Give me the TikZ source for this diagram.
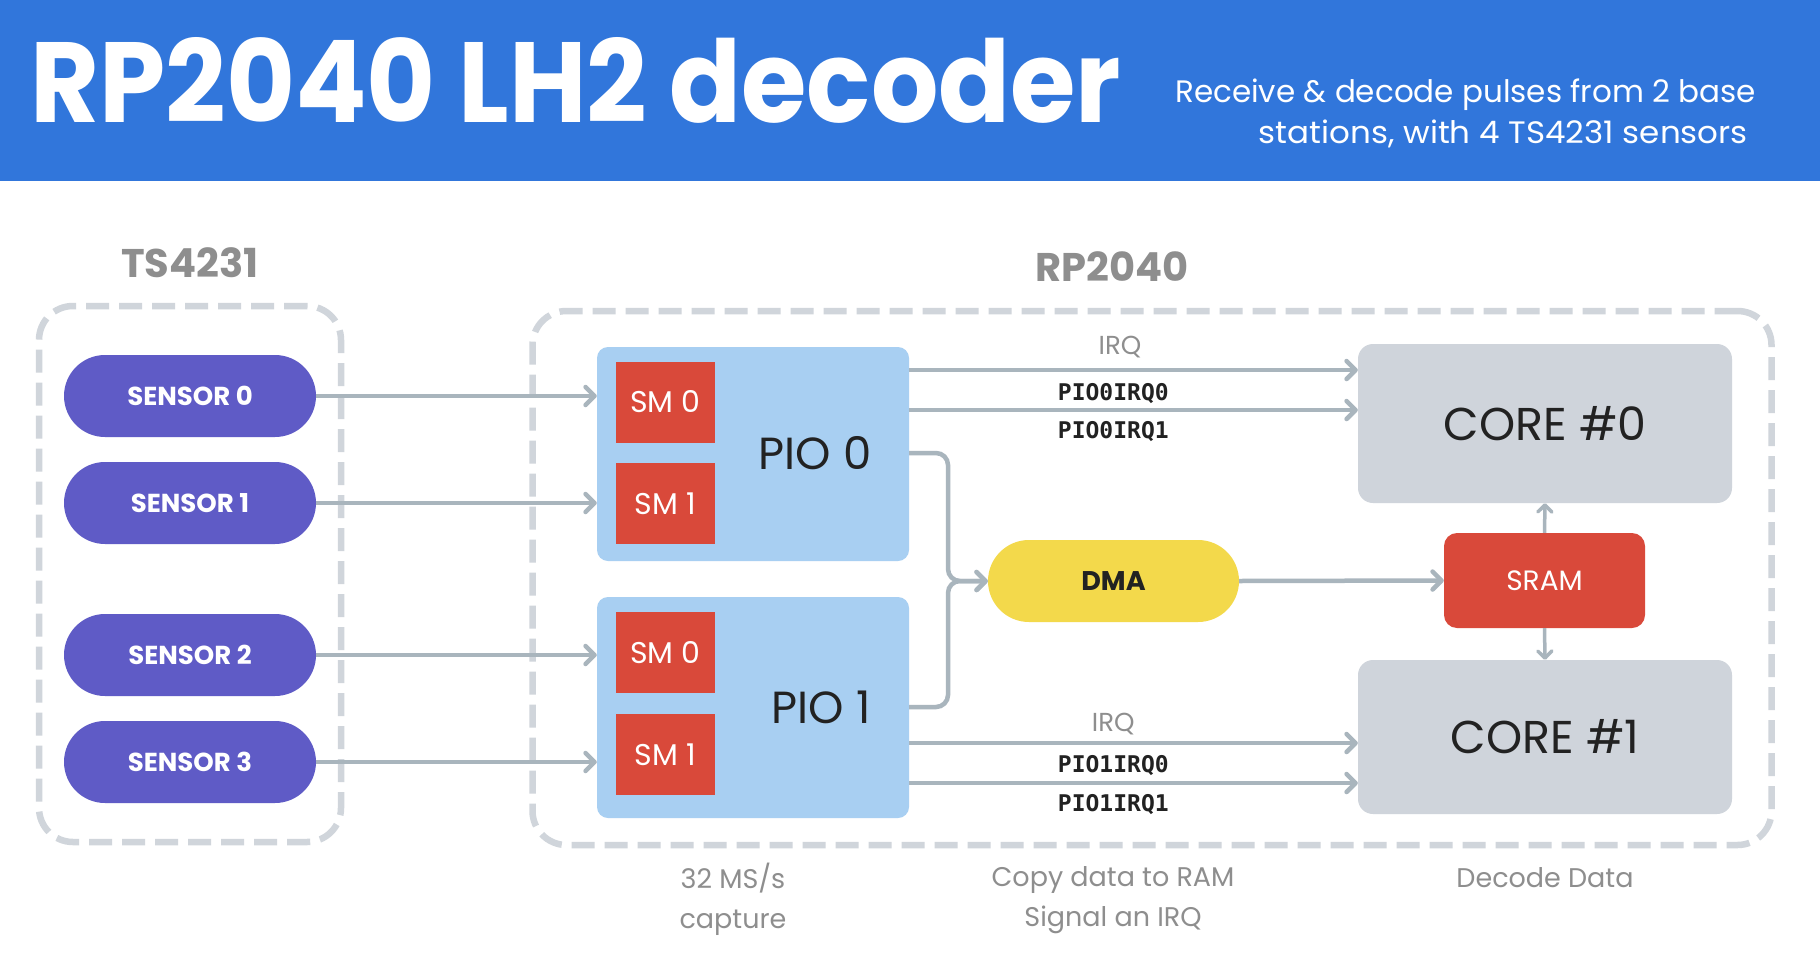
\documentclass[tikz,border=0pt]{standalone}
\usepackage{graphicx}
\usepackage{fontspec}
\setmainfont{Poppins}
\newfontfamily\monofam{DejaVu Sans Mono}
\usetikzlibrary{arrows.meta, positioning}
\definecolor{headerblue}{RGB}{49, 118, 219}
\definecolor{sensorpurple}{RGB}{95, 91, 198}
\definecolor{pioblue}{RGB}{168, 207, 242}
\definecolor{smred}{RGB}{217, 73, 58}
\definecolor{coregray}{RGB}{207, 212, 219}
\definecolor{dmayellow}{RGB}{243, 217, 75}
\definecolor{connline}{RGB}{169, 181, 189}
\definecolor{groupline}{RGB}{208, 213, 219}
\definecolor{labelgray}{RGB}{142, 142, 142}
\definecolor{darktext}{RGB}{34, 34, 34}

\tikzset{
    conn/.style={draw=connline, line width=4.5pt,
        -{Straight Barb[length=9pt, width=18pt, line cap=round, line join=round]}},
    thinconn/.style={draw=connline, line width=3.5pt,
        -{Straight Barb[length=7pt, width=14pt, line cap=round, line join=round]}},
    groupbox/.style={draw=groupline, line width=6.5pt, dash pattern=on 23pt off 10pt,
        rounded corners=34pt, inner sep=0pt},
    pill/.style={rectangle, inner sep=0pt, minimum width=252pt, minimum height=82pt,
        rounded corners=41pt},
    sensorpill/.style={pill, fill=sensorpurple, text=white,
        font=\fontsize{26}{30}\selectfont\bfseries},
    piobox/.style={rectangle, fill=pioblue, rounded corners=11pt, inner sep=0pt,
        minimum width=312pt},
    smbox/.style={rectangle, fill=smred, text=white, inner sep=0pt,
        minimum width=99pt, minimum height=81pt, font=\fontsize{30}{34}\selectfont},
    corebox/.style={rectangle, fill=coregray, text=darktext, rounded corners=15pt,
        inner sep=0pt, minimum width=374pt, font=\fontsize{46}{50}\selectfont},
    grouptitle/.style={text=labelgray, font=\fontsize{40}{44}\selectfont\bfseries},
    irqlabel/.style={text=labelgray, font=\fontsize{26}{30}\selectfont, inner sep=0pt},
    piqlabel/.style={text=darktext, font=\monofam\fontsize{23}{26}\selectfont\bfseries,
        inner sep=0pt},
    caption/.style={text=labelgray, align=center, font=\fontsize{27}{40}\selectfont}
}

\begin{document}
\begin{tikzpicture}[x=1pt, y=-1pt]
    \useasboundingbox (0,0) rectangle (1820,969);
    \fill[white] (0,0) rectangle (1820,969);

    % 1. Header band
    \fill[headerblue] (0,0) rectangle (1820,181);
    \node[anchor=base west, inner sep=0pt, text=white,
        font=\fontsize{114}{120}\selectfont\bfseries] (title) at (30,122)
        {\scalebox{0.93}[1]{RP2040 LH2 decoder}};
    \node[anchor=base east, inner sep=0pt, text=white,
        font=\fontsize{31}{36}\selectfont] (sub1) at (1756,102) {Receive \& decode pulses from 2 base};
    \node[anchor=base east, inner sep=0pt, text=white,
        font=\fontsize{31}{36}\selectfont] (sub2) at (1748,143)
        {\scalebox{1.05}[1]{stations, with 4 TS4231 sensors}};

    % 2. Group boxes and their titles
    \node[groupbox, minimum width=302pt, minimum height=536pt] (tsgroup) at (190,574) {};
    \node[groupbox, minimum width=1239pt, minimum height=534pt] (rpgroup) at (1152,578) {};
    \node[grouptitle] (tstitle) at (190,263) {TS4231};
    \node[grouptitle] (rptitle) at (1112,267) {RP2040};

    % 3. Sensors
    \node[sensorpill] (s0) at (190,396) {SENSOR 0};
    \node[sensorpill] (s1) at (190,503) {SENSOR 1};
    \node[sensorpill] (s2) at (190,655) {SENSOR 2};
    \node[sensorpill] (s3) at (190,762) {SENSOR 3};

    % 4. PIO blocks with their state machines
    \node[piobox, minimum height=214pt] (pio0) at (753,454) {};
    \node[piobox, minimum height=221pt] (pio1) at (753,707.5) {};
    \node[smbox] (pio0sm0) at (665.5,402) {SM 0};
    \node[smbox] (pio0sm1) at (665.5,503.5) {SM 1};
    \node[smbox] (pio1sm0) at (665.5,652.5) {SM 0};
    \node[smbox] (pio1sm1) at (665.5,754.5) {SM 1};
    \node[text=darktext, font=\fontsize{45}{50}\selectfont] (pio0lbl) at (815,453) {PIO 0};
    \node[text=darktext, font=\fontsize{45}{50}\selectfont] (pio1lbl) at (821,707) {PIO 1};

    % 5. DMA, SRAM and the two cores
    \node[pill, fill=dmayellow, minimum width=251pt, text=darktext,
        font=\fontsize{27}{30}\selectfont\bfseries] (dma) at (1113.5,581) {DMA};
    \node[rectangle, fill=smred, rounded corners=13pt, minimum width=201pt, minimum height=95pt,
        inner sep=0pt, text=white, font=\fontsize{28}{30}\selectfont] (sram) at (1544.5,580.5) {SRAM};
    \node[corebox, minimum height=159pt] (core0) at (1545,423.5) {CORE \#0};
    \node[corebox, minimum height=154pt] (core1) at (1545,737) {CORE \#1};

    % 6. Sensor inputs
    \foreach \s/\p in {s0/pio0, s1/pio0, s2/pio1, s3/pio1}
        \draw[conn] (\s.east) -- (\s.east -| \p.west);

    % 7. IRQ lines to the cores
    \coordinate (irq0a) at (0,370);
    \coordinate (irq0b) at (0,410);
    \coordinate (irq1a) at (0,743);
    \coordinate (irq1b) at (0,783);
    \draw[conn] (pio0.east |- irq0a) -- (core0.west |- irq0a)
        node[irqlabel, pos=0.47, above=10pt] (irq0lbl) {IRQ}
        node[piqlabel, pos=0.455, below=11pt] (p0q0lbl) {PIO0IRQ0};
    \draw[conn] (pio0.east |- irq0b) -- (core0.west |- irq0b)
        node[piqlabel, pos=0.455, below=9pt] (p0q1lbl) {PIO0IRQ1};
    \draw[conn] (pio1.east |- irq1a) -- (core1.west |- irq1a)
        node[irqlabel, pos=0.455, above=6pt] (irq1lbl) {IRQ}
        node[piqlabel, pos=0.455, below=10pt] (p1q0lbl) {PIO1IRQ0};
    \draw[conn] (pio1.east |- irq1b) -- (core1.west |- irq1b)
        node[piqlabel, pos=0.455, below=9pt] (p1q1lbl) {PIO1IRQ1};

    % 8. PIO to DMA, DMA to SRAM, SRAM to the cores
    \coordinate (dmajoin) at (948,581);
    \draw[conn, rounded corners=12pt] (pio0.east |- pio0lbl) -| (dmajoin) -- (dma.west);
    \draw[conn, rounded corners=12pt] (pio1.east |- pio1lbl) -| (dmajoin) -- (dma.west);
    \draw[conn] (dma.east) -- (sram.west);
    \draw[thinconn] (sram.north) -- (core0.south);
    \draw[thinconn] (sram.south) -- (core1.north);

    % 9. Captions
    \node[caption] (cap1) at (733,899) {32 MS/s\\capture};
    \node[caption] (cap2) at (1113,900) {Copy data to RAM\\Signal an IRQ};
    \node[caption] (cap3) at (1545,878) {Decode Data};
\end{tikzpicture}
\end{document}
